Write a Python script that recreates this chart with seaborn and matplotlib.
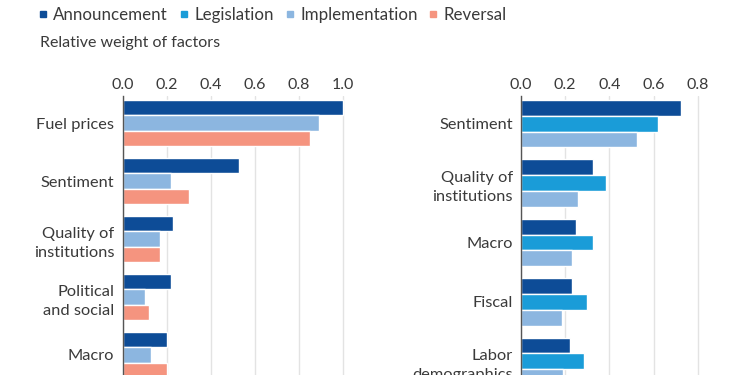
import numpy as np
import pandas as pd
import matplotlib
matplotlib.use("Agg")
import matplotlib.pyplot as plt
from matplotlib.lines import Line2D
import seaborn as sns

# ---------- data ----------
stages = ["Announcement", "Legislation", "Implementation", "Reversal"]
colors = ["#0d4c97", "#1a9cd8", "#8cb6e0", "#f5947f"]

left_cats = ["Fuel prices", "Sentiment", "Quality of\ninstitutions", "Political\nand social", "Macro"]
left_announcement = [1.0, 0.53, 0.23, 0.22, 0.20]
left_implementation = [0.89, 0.22, 0.17, 0.10, 0.13]
left_reversal = [0.85, 0.30, 0.17, 0.12, 0.20]

right_cats = ["Sentiment", "Quality of\ninstitutions", "Macro", "Fiscal", "Labor\ndemographics"]
right_announcement = [0.725, 0.325, 0.25, 0.23, 0.22]
right_legislation = [0.62, 0.385, 0.325, 0.30, 0.285]
right_implementation = [0.525, 0.26, 0.23, 0.185, 0.19]

left_ticks = [0.0, 0.2, 0.4, 0.6, 0.8, 1.0]
right_ticks = [0.0, 0.2, 0.4, 0.6, 0.8]

left_df = pd.DataFrame({
    "factor": left_cats * 3,
    "stage": ["Announcement"] * 5 + ["Implementation"] * 5 + ["Reversal"] * 5,
    "weight": left_announcement + left_implementation + left_reversal,
})
right_df = pd.DataFrame({
    "factor": right_cats * 3,
    "stage": ["Announcement"] * 5 + ["Legislation"] * 5 + ["Implementation"] * 5,
    "weight": right_announcement + right_legislation + right_implementation,
})
palette = dict(zip(stages, colors))

sns.set_style("white")
plt.rcParams["font.family"] = ["Lato", "DejaVu Sans"]
text_col = "#3a3a3a"

fig = plt.figure(figsize=(7.5, 3.75), dpi=100)

# axes run past the bottom edge so the chart is cropped like the reference
ax1 = fig.add_axes([0.1636, 0.0, 0.3084, 0.743])
ax2 = fig.add_axes([0.6947, 0.0, 0.2651, 0.743])


def draw(ax, df, cats, order, ticks, xmax, ylim):
    sns.barplot(data=df, x="weight", y="factor", hue="stage", order=cats,
                hue_order=order, palette=palette, orient="h", saturation=1,
                errorbar=None, width=0.8, legend=False, ax=ax)
    ax.set_xlim(0, xmax)
    ax.set_ylim(*ylim)
    ax.set_xticks(ticks)
    ax.set_xticklabels([f"{t:.1f}" for t in ticks])
    ax.set_xlabel("")
    ax.set_ylabel("")
    ax.xaxis.grid(True, color="#e3e3e3", linewidth=1)
    ax.set_axisbelow(True)
    for s in ["top", "right", "bottom"]:
        ax.spines[s].set_visible(False)
    ax.spines["left"].set_color("#555555")
    ax.spines["left"].set_linewidth(1)
    ax.tick_params(axis="x", top=True, labeltop=True, bottom=False,
                   labelbottom=False, length=0, pad=3.5, labelsize=11.5,
                   labelcolor=text_col)
    ax.tick_params(axis="y", length=0, pad=6, labelsize=11.8, labelcolor=text_col)
    for lbl in ax.get_yticklabels():
        lbl.set_multialignment("right")
        lbl.set_linespacing(1.5)


draw(ax1, left_df, left_cats, ["Announcement", "Implementation", "Reversal"],
     left_ticks, 1.05, (4.345, -0.46))
draw(ax2, right_df, right_cats, ["Announcement", "Legislation", "Implementation"],
     right_ticks, 0.9, (4.23, -0.46))

handles = [Line2D([], [], marker="s", linestyle="", markersize=4.5,
                  color=palette[s]) for s in stages]
fig.legend(handles, stages, loc="upper left", bbox_to_anchor=(0.052, 0.982),
           ncol=4, frameon=False, fontsize=12.2, handlelength=0.45,
           handletextpad=0.4, columnspacing=0.7, borderpad=0,
           borderaxespad=0, labelcolor=text_col)
fig.text(0.0533, 0.886, "Relative weight of factors", fontsize=11.5,
         color=text_col, va="center", ha="left")

fig.savefig("out.png", dpi=100)
